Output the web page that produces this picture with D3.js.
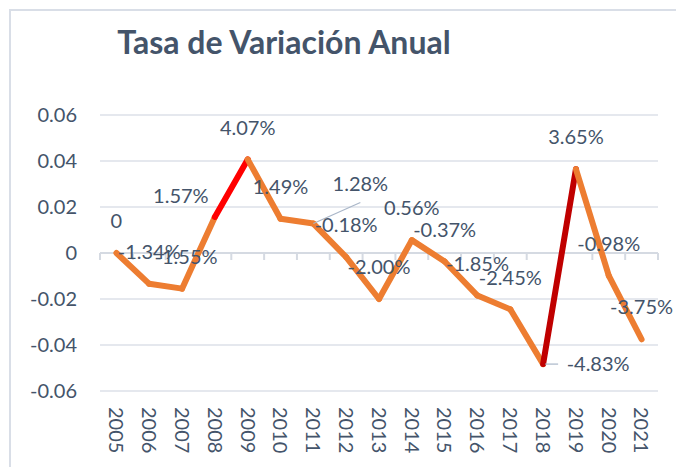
<!DOCTYPE html>
<html>
<head>
<meta charset="utf-8">
<script src="https://cdn.jsdelivr.net/npm/d3@7"></script>
<style>
  body { margin: 0; background: #fff; }
  text { font-family: Lato, "Open Sans", sans-serif; fill: #44546A; }
</style>
</head>
<body>
<svg id="chart" width="676" height="467"></svg>
<script>
// data
const years = ["2005","2006","2007","2008","2009","2010","2011","2012","2013",
               "2014","2015","2016","2017","2018","2019","2020","2021"];
const rates = [0, -0.0134, -0.0155, 0.0157, 0.0407, 0.0149, 0.0128, -0.0018, -0.0200,
               0.0056, -0.0037, -0.0185, -0.0245, -0.0483, 0.0365, -0.0098, -0.0375];
const rateLabels = ["0","-1.34%","-1.55%","1.57%","4.07%","1.49%","1.28%","-0.18%","-2.00%",
                    "0.56%","-0.37%","-1.85%","-2.45%","-4.83%","3.65%","-0.98%","-3.75%"];
const yTicks = [-0.06, -0.04, -0.02, 0, 0.02, 0.04, 0.06];

const svg = d3.select("#chart");
const margin = {top: 115, right: 18, bottom: 76, left: 100};
const width = 676 - margin.left - margin.right;
const height = 467 - margin.top - margin.bottom;

// outer chart frame (runs off the right/bottom edge in the picture)
svg.append("rect")
    .attr("x", 10).attr("y", 10)
    .attr("width", 700).attr("height", 500)
    .attr("fill", "none")
    .attr("stroke", "#D9DEE7")
    .attr("stroke-width", 2);

svg.append("text")
    .attr("x", 284).attr("y", 54)
    .attr("text-anchor", "middle")
    .style("font-size", "32px")
    .style("font-weight", "bold")
    .text("Tasa de Variación Anual");

const g = svg.append("g").attr("transform", `translate(${margin.left},${margin.top})`);

const x = d3.scaleBand().domain(years).range([0, width]);
const y = d3.scaleLinear().domain([-0.06, 0.06]).range([height, 0]);
const cx = d => x(d) + x.bandwidth() / 2;

// gridlines
g.selectAll(".grid").data(yTicks).enter().append("line")
    .attr("x1", 0).attr("x2", width)
    .attr("y1", d => y(d)).attr("y2", d => y(d))
    .attr("stroke", "#DDE1E8")
    .attr("stroke-width", 1.5);

// y axis labels
g.selectAll(".ylab").data(yTicks).enter().append("text")
    .attr("x", -23).attr("y", d => y(d))
    .attr("dy", "0.36em")
    .attr("text-anchor", "end")
    .style("font-size", "20px")
    .text(d => d === 0 ? "0" : d.toFixed(2));

// category axis at zero with tick marks between categories
g.append("line")
    .attr("x1", 0).attr("x2", width)
    .attr("y1", y(0)).attr("y2", y(0))
    .attr("stroke", "#D5DAE2").attr("stroke-width", 2);
g.selectAll(".tick").data(d3.range(years.length + 1)).enter().append("line")
    .attr("x1", i => i * x.step()).attr("x2", i => i * x.step())
    .attr("y1", y(0)).attr("y2", y(0) + 7)
    .attr("stroke", "#D5DAE2").attr("stroke-width", 2);

// year labels, rotated
g.selectAll(".xlab").data(years).enter().append("text")
    .attr("transform", d => `translate(${cx(d)},${height + 16}) rotate(90)`)
    .attr("dy", "0.36em")
    .style("font-size", "20px")
    .text(d => d);

// line, drawn segment by segment so two jumps can be highlighted
function segColor(i) {
    if (years[i + 1] === "2009") return "#FF0000";
    if (years[i + 1] === "2019") return "#C00000";
    return "#ED7D31";
}
const segs = d3.range(years.length - 1);
g.selectAll(".seg").data(segs).enter().append("line")
    .attr("x1", i => cx(years[i])).attr("y1", i => y(rates[i]))
    .attr("x2", i => cx(years[i + 1])).attr("y2", i => y(rates[i + 1]))
    .attr("stroke", segColor)
    .attr("stroke-width", 6)
    .attr("stroke-linecap", "round");

// data labels: centred above the point, a few moved like in the picture
const labelShift = {"2007": [4, 0], "2008": [-34, 11], "2011": [47, -8], "2018": [55, 32]};
const lx = (d, i) => cx(d) + (labelShift[d] ? labelShift[d][0] : 0);
const ly = (d, i) => y(rates[i]) - 32 + (labelShift[d] ? labelShift[d][1] : 0);

// leader lines for the moved labels
g.append("line")
    .attr("x1", cx("2011")).attr("y1", y(rates[6]))
    .attr("x2", cx("2011") + 47).attr("y2", y(rates[6]) - 21)
    .attr("stroke", "#A9B6C8").attr("stroke-width", 1.2);
g.append("line")
    .attr("x1", cx("2018") + 2).attr("y1", y(rates[13]))
    .attr("x2", cx("2018") + 15).attr("y2", y(rates[13]))
    .attr("stroke", "#A9B6C8").attr("stroke-width", 1.2);

g.selectAll(".dlab").data(years).enter().append("text")
    .attr("x", lx).attr("y", ly)
    .attr("dy", "0.36em")
    .attr("text-anchor", "middle")
    .style("font-size", "20px")
    .text((d, i) => rateLabels[i]);
</script>
</body>
</html>
